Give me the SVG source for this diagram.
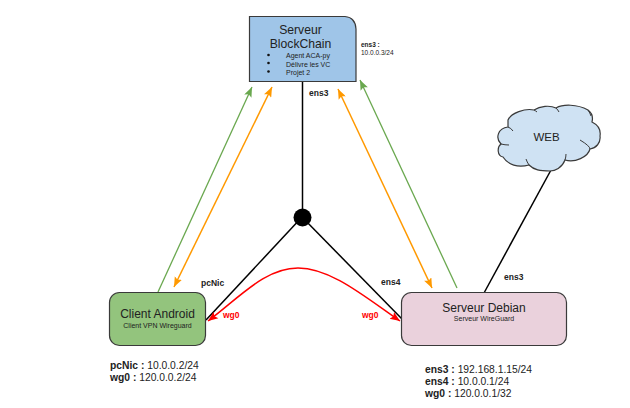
<svg xmlns="http://www.w3.org/2000/svg" width="630" height="408" viewBox="0 0 630 408">
<style>
text{font-family:"Liberation Sans",Arial,sans-serif;fill:#222}
.b{font-weight:bold}
.shape{stroke:#3a3a3a;stroke-width:1.2}
.l{fill:none;stroke:#000;stroke-width:1.5}
.g{fill:none;stroke:#6aa84f;stroke-width:1.3;marker-end:url(#ag)}
.o{fill:none;stroke:#ff9900;stroke-width:1.5;marker-end:url(#ao);marker-start:url(#aos)}
.r{fill:none;stroke:#ff0000;stroke-width:1.5;marker-end:url(#ar);marker-start:url(#ars)}
.red{fill:#ff0000;font-weight:bold;font-size:8.5px}
.lb{font-weight:bold;font-size:8.500px}
.info{font-size:10.300px}
.lobe{fill:none;stroke:#3a3a3a;stroke-width:1}
</style>
<defs>
<marker id="ag" markerUnits="userSpaceOnUse" markerWidth="12" markerHeight="10" refX="10" refY="4" orient="auto"><path d="M0 0L10 4L0 8L2 4Z" fill="#6aa84f"/></marker>
<marker id="ao" markerUnits="userSpaceOnUse" markerWidth="12" markerHeight="10" refX="10" refY="4" orient="auto"><path d="M0 0L10 4L0 8L2 4Z" fill="#ff9900"/></marker>
<marker id="aos" markerUnits="userSpaceOnUse" markerWidth="12" markerHeight="10" refX="0" refY="4" orient="auto"><path d="M10 0L0 4L10 8L8 4Z" fill="#ff9900"/></marker>
<marker id="ar" markerUnits="userSpaceOnUse" markerWidth="12" markerHeight="10" refX="10" refY="4" orient="auto"><path d="M0 0L10 4L0 8L2 4Z" fill="#ff0000"/></marker>
<marker id="ars" markerUnits="userSpaceOnUse" markerWidth="12" markerHeight="10" refX="0" refY="4" orient="auto"><path d="M10 0L0 4L10 8L8 4Z" fill="#ff0000"/></marker>
</defs>
<g id="connectors">
<path class="l" d="M302.500 81V217"/>
<path class="l" d="M302 217L206 320"/>
<path class="l" d="M302 217L402 319"/>
<path class="l" d="M484 293L551 170"/>
<path class="g" d="M158 292L252 87"/>
<path class="g" d="M457 288L360 80"/>
<path class="o" d="M272 87L174 287"/>
<path class="o" d="M338 89L432 288"/>
<path class="r" d="M208 321C240 297 265 268 298 268C331 268 365 297 400 321"/>
</g>
<g id="node-blockchain">
<path class="shape" fill="#9fc5e8" d="M249.500 16.500H345Q355.500 17.500 356 29V81.500H249.500Z"/>
<text x="300.500" y="34" text-anchor="middle" font-size="12.200">Serveur</text>
<text x="300.500" y="48" text-anchor="middle" font-size="12.200">BlockChain</text>
<circle cx="268.500" cy="55" r="1.300" fill="#111"/><circle cx="268.500" cy="63" r="1.300" fill="#111"/><circle cx="268.500" cy="71.500" r="1.300" fill="#111"/>
<text x="286" y="58" font-size="7">Agent ACA-py</text>
<text x="286" y="66.500" font-size="7">Délivre les VC</text>
<text x="286" y="74.500" font-size="7">Projet 2</text>
</g>
<g id="label-blockchain">
<text x="361" y="47" font-size="6.500" class="b">ens3 :</text>
<text x="361" y="55" font-size="6.500">10.0.0.3/24</text>
</g>
<g id="node-hub"><circle cx="302.500" cy="217.500" r="9" fill="#000"/></g>
<g id="node-client">
<rect class="shape" x="109.500" y="292.500" width="96" height="53" rx="10" fill="#93c47d"/>
<text x="157.500" y="318" text-anchor="middle" font-size="12">Client Android</text>
<text x="157.500" y="328" text-anchor="middle" font-size="7">Client VPN Wireguard</text>
</g>
<g id="node-debian">
<rect class="shape" x="401.500" y="292.500" width="165" height="53" rx="10" fill="#ead1dc"/>
<text x="484" y="312" text-anchor="middle" font-size="12">Serveur Debian</text>
<text x="484" y="321" text-anchor="middle" font-size="7">Serveur WireGuard</text>
</g>
<g id="node-web">
<path class="shape" fill="#cfe2f3" d="M508 120C511 113 525 108 534 110C540 106 550 105 556 108C563 104 577 104 588 110C592 113 593 118 592 122C598 125 601 130 600 136C601 143 596 148 590 149C588 157 575 163 565 160C562 168 555 171 550 171C540 171 534 170 529 165C518 168 508 165 503 157C497 156 497 147 501 144C495 138 498 128 508 127Z"/>
<path class="lobe" d="M501 144Q505 145 509 145M508 127Q511 128 513 131M529 165Q527 162 526 159M565 160Q566 157 566 154M580 140Q590 146 590 149M556 108Q558 110 559 112M534 110Q536 111 537 112M588 110Q590 113 591 116"/>
<text x="546.500" y="141" text-anchor="middle" font-size="11.500">WEB</text>
</g>
<g id="labels">
<text x="309" y="96" class="lb">ens3</text>
<text x="201" y="285.500" class="lb">pcNic</text>
<text x="381" y="285" class="lb">ens4</text>
<text x="504" y="280" class="lb">ens3</text>
<text class="red" x="223" y="318">wg0</text>
<text class="red" x="362" y="318">wg0</text>
<text x="110" y="369" class="info"><tspan class="b">pcNic : </tspan>10.0.0.2/24</text>
<text x="110" y="381" class="info"><tspan class="b">wg0 : </tspan>120.0.0.2/24</text>
<text x="425" y="373" class="info"><tspan class="b">ens3 : </tspan>192.168.1.15/24</text>
<text x="425" y="385" class="info"><tspan class="b">ens4 : </tspan>10.0.0.1/24</text>
<text x="425" y="397" class="info"><tspan class="b">wg0 : </tspan>120.0.0.1/32</text>
</g>
</svg>
